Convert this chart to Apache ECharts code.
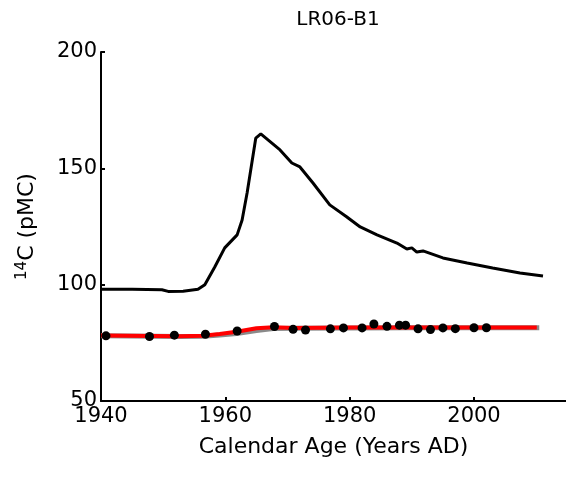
<!DOCTYPE html>
<html>
<head>
<meta charset="utf-8">
<script src="https://cdn.jsdelivr.net/npm/echarts@6/dist/echarts.min.js"></script>
<style>
  html, body { margin: 0; padding: 0; background: #fff; }
  #chart { width: 566px; height: 477px; }
</style>
</head>
<body>
<div id="chart"></div>
<script>
// Atmospheric 14C record (bomb peak)
const atmYears  = [1940, 1945, 1949.8, 1950.8, 1953.2, 1955.6, 1956.7, 1958.3, 1959.9, 1961.9, 1962.7, 1963.5, 1964.9, 1965.7, 1968.8, 1970.7, 1972.0, 1974.1, 1976.8, 1979.5, 1981.7, 1984.4, 1987.6, 1989.2, 1990.0, 1990.8, 1991.8, 1995.0, 1998.9, 2003.0, 2007.4, 2011.1];
const atmValues = [98.0, 98.0, 97.8, 97.1, 97.2, 98.0, 100.0, 107.6, 115.8, 121.4, 127.8, 139.4, 163.0, 164.8, 157.9, 152.3, 150.6, 143.7, 134.3, 129.2, 124.8, 121.4, 117.9, 115.3, 115.8, 114.0, 114.5, 111.5, 109.3, 107.2, 105.0, 103.7];

// Model curves for the sample
const modelYears  = [1940, 1952.7, 1956.4, 1959.1, 1961.8, 1965.0, 1967.7, 1970.9, 1980, 1990, 2000, 2010.1];
const modelRed    = [78.1, 77.8, 78.0, 78.8, 79.8, 81.3, 81.7, 81.4, 81.6, 81.6, 81.6, 81.6];
const grayYears   = [1940, 1952.7, 1956.4, 1959.1, 1961.8, 1965.0, 1967.7, 1970.9, 1980, 1990, 2000, 2010.5];
const modelGray   = [78.0, 77.7, 77.8, 78.4, 79.0, 80.3, 81.2, 81.3, 81.4, 81.5, 81.5, 81.5];

// Measured samples
const sampleYears  = [1940.8, 1947.8, 1951.8, 1956.8, 1961.9, 1967.9, 1970.9, 1972.9, 1976.9, 1979.0, 1982.0, 1983.9, 1986.0, 1988.0, 1989.0, 1991.0, 1993.0, 1995.0, 1997.0, 2000.0, 2002.0];
const sampleValues = [78.0, 77.7, 78.3, 78.7, 80.1, 82.0, 80.8, 80.5, 81.0, 81.4, 81.4, 83.1, 82.1, 82.6, 82.6, 81.0, 80.7, 81.4, 81.1, 81.5, 81.5];

// Axis ticks
const xTicks = [1940, 1960, 1980, 2000];
const yTicks = [50, 100, 150, 200];

const pairs = (xs, ys) => xs.map((x, i) => [x, ys[i]]);
const FONT = 'DejaVu Sans';

const chart = echarts.init(document.getElementById('chart'), null, { renderer: 'canvas' });
chart.setOption({
  animation: false,
  backgroundColor: '#fff',
  title: {
    text: 'LR06-B1',
    left: 333,
    textAlign: 'center',
    top: 5,
    textStyle: { fontFamily: FONT, fontSize: 20, fontWeight: 'normal', color: '#000' }
  },
  grid: { left: 101, right: 0, top: 52, bottom: 76, containLabel: false },
  xAxis: {
    type: 'value',
    min: 1940,
    max: 2014.8,
    name: 'Calendar Age (Years AD)',
    nameLocation: 'middle',
    nameGap: 35,
    nameTextStyle: { fontFamily: FONT, fontSize: 22, color: '#000' },
    axisLine: { show: true, onZero: false, lineStyle: { color: '#000', width: 2 } },
    axisTick: { show: true, inside: true, length: 4, customValues: xTicks, lineStyle: { color: '#000', width: 2 } },
    axisLabel: {
      customValues: xTicks, margin: 5, fontFamily: FONT, fontSize: 21, color: '#000',
      formatter: v => String(v)
    },
    splitLine: { show: false }
  },
  yAxis: {
    type: 'value',
    min: yTicks[0],
    max: yTicks[yTicks.length - 1],
    interval: 50,
    name: '{sup|14}{main|C (pMC)}',
    nameLocation: 'middle',
    nameRotate: 90,
    nameGap: 62,
    nameTextStyle: {
      color: '#000',
      rich: {
        sup: { fontFamily: FONT, fontSize: 15, color: '#000', verticalAlign: 'top', lineHeight: 24, padding: [0, 0, 10, 0] },
        main: { fontFamily: FONT, fontSize: 22, color: '#000', lineHeight: 24 }
      }
    },
    axisLine: { show: true, onZero: false, lineStyle: { color: '#000', width: 2 } },
    axisTick: { show: true, inside: true, length: 4, lineStyle: { color: '#000', width: 2 } },
    axisLabel: { customValues: yTicks, margin: 4, fontFamily: FONT, fontSize: 21, color: '#000' },
    splitLine: { show: false }
  },
  series: [
    {
      type: 'line',
      data: pairs(atmYears, atmValues),
      showSymbol: false,
      lineStyle: { color: '#000', width: 3 },
      z: 2
    },
    {
      type: 'line',
      data: pairs(grayYears, modelGray),
      showSymbol: false,
      lineStyle: { color: '#8a8a8a', width: 5 },
      z: 3
    },
    {
      type: 'line',
      data: pairs(modelYears, modelRed),
      showSymbol: false,
      lineStyle: { color: '#ff0000', width: 4 },
      z: 4
    },
    {
      type: 'scatter',
      data: pairs(sampleYears, sampleValues),
      symbol: 'circle',
      symbolSize: 9,
      itemStyle: { color: '#000', opacity: 1 },
      z: 5
    }
  ]
});
</script>
</body>
</html>
